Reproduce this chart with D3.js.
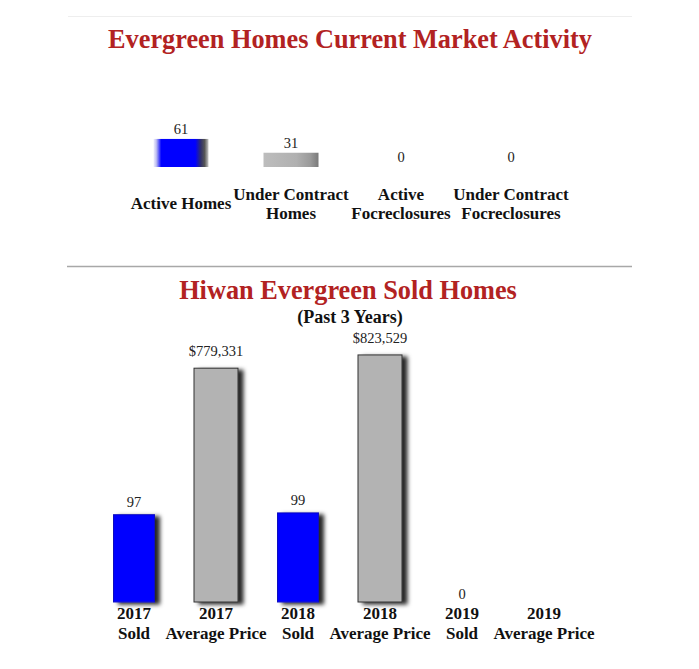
<!DOCTYPE html>
<html>
<head>
<meta charset="utf-8">
<script src="https://cdn.jsdelivr.net/npm/d3@7/dist/d3.min.js"></script>
<style>
  html, body { margin: 0; padding: 0; background: #fff; }
  svg { display: block; }
  text { font-family: "Liberation Serif", "Times New Roman", serif; }
</style>
</head>
<body>
<svg id="chart" width="699" height="669"></svg>
<script>
// ---- Data ----
const activityTitle = "Evergreen Homes Current Market Activity";
const activityCategories = [["Active Homes"], ["Under Contract", "Homes"], ["Active", "Focreclosures"], ["Under Contract", "Focreclosures"]];
const activityValues = [61, 31, 0, 0];
const activityKinds = ["active", "contract", "active", "contract"];

const soldTitle = "Hiwan Evergreen Sold Homes";
const soldSubtitle = "(Past 3 Years)";
const soldCategories = [["2017", "Sold"], ["2017", "Average Price"], ["2018", "Sold"], ["2018", "Average Price"], ["2019", "Sold"], ["2019", "Average Price"]];
const soldValues = [97, 779331, 99, 823529, 0, null];
const soldKinds = ["count", "price", "count", "price", "count", "price"];

// ---- Setup ----
const svg = d3.select("#chart");
const defs = svg.append("defs");

const gBlue = defs.append("linearGradient").attr("id", "gradBlue").attr("x1", "0").attr("x2", "1").attr("y1", "0").attr("y2", "0");
[[0, "#f0f0ff"], [0.05, "#c0c0f0"], [0.14, "#0000ff"], [0.76, "#0000ff"], [0.86, "#30306a"], [0.93, "#555"], [1, "#c8c8c8"]]
  .forEach(([o, c]) => gBlue.append("stop").attr("offset", o).attr("stop-color", c));
const gGray = defs.append("linearGradient").attr("id", "gradGray").attr("x1", "0").attr("x2", "1").attr("y1", "0").attr("y2", "0");
[[0, "#bdbdbd"], [0.6, "#b0b0b0"], [0.85, "#9a9a9a"], [1, "#7a7a7a"]]
  .forEach(([o, c]) => gGray.append("stop").attr("offset", o).attr("stop-color", c));

const shadow = defs.append("filter").attr("id", "shadow").attr("x", "-20%").attr("y", "-20%").attr("width", "160%").attr("height", "140%");
shadow.append("feDropShadow").attr("dx", 5).attr("dy", 2).attr("stdDeviation", 2.2).attr("flood-color", "#000").attr("flood-opacity", 0.85);

const titleColor = "#b22222";

// ---- Section 1 ----
svg.append("line").attr("x1", 68).attr("x2", 632).attr("y1", 16.5).attr("y2", 16.5).attr("stroke", "#eeeeee").attr("stroke-width", 1);
svg.append("text").attr("x", 350).attr("y", 48).attr("text-anchor", "middle")
  .attr("font-size", 26.3).attr("font-weight", "bold").attr("fill", titleColor).text(activityTitle);

const x1 = d3.scaleBand().domain(d3.range(activityValues.length)).range([126, 566]).paddingInner(0.5).paddingOuter(0.25);
const h1 = d3.scaleLinear().domain([0, 100]).range([0, 46]);
const base1 = 167;

const g1 = svg.append("g");
g1.selectAll("rect.bar").data(activityValues).join("rect")
  .attr("class", "bar")
  .attr("x", (d, i) => x1(i))
  .attr("width", x1.bandwidth())
  .attr("y", d => base1 - h1(d))
  .attr("height", d => h1(d))
  .attr("fill", (d, i) => activityKinds[i] === "active" ? "url(#gradBlue)" : "url(#gradGray)");

g1.selectAll("text.val").data(activityValues).join("text")
  .attr("class", "val")
  .attr("x", (d, i) => x1(i) + x1.bandwidth() / 2)
  .attr("y", d => base1 - h1(d) - 5)
  .attr("text-anchor", "middle").attr("font-size", 14.5).attr("fill", "#222")
  .text(d => d);

activityCategories.forEach((lines, i) => {
  const t = g1.append("text").attr("text-anchor", "middle").attr("font-size", 17).attr("font-weight", "bold").attr("fill", "#111");
  const cx = x1(i) + x1.bandwidth() / 2;
  const startY = lines.length === 1 ? 209 : 200;
  lines.forEach((ln, j) => t.append("tspan").attr("x", cx).attr("y", startY + j * 19).text(ln));
});

// ---- Section 2 ----
svg.append("line").attr("x1", 67).attr("x2", 632).attr("y1", 266.5).attr("y2", 266.5).attr("stroke", "#a8a8a8").attr("stroke-width", 1.5);
svg.append("text").attr("x", 348).attr("y", 299).attr("text-anchor", "middle")
  .attr("font-size", 26.3).attr("font-weight", "bold").attr("fill", titleColor).text(soldTitle);
svg.append("text").attr("x", 350).attr("y", 323).attr("text-anchor", "middle")
  .attr("font-size", 18).attr("font-weight", "bold").attr("fill", "#111").text(soldSubtitle);

const x2 = d3.scaleBand().domain(d3.range(soldValues.length)).range([93, 585]).paddingInner(0.5).paddingOuter(0.25);
const hCount = d3.scaleLinear().domain([0, 100]).range([0, 90]);
const hPrice = d3.scaleLinear().domain([0, 1000000]).range([0, 300]);
const base2 = 602;
const hOf = (d, i) => d == null ? 0 : (soldKinds[i] === "count" ? hCount(d) : hPrice(d));

const g2 = svg.append("g");
const barData = soldValues.map((v, i) => ({ v, i })).filter(d => d.v);
g2.selectAll("rect.bar").data(barData).join("rect")
  .attr("class", "bar")
  .attr("x", d => soldKinds[d.i] === "count" ? x2(d.i) : x2(d.i) - 1.5)
  .attr("width", d => soldKinds[d.i] === "count" ? x2.bandwidth() : x2.bandwidth() + 3)
  .attr("y", d => base2 - hOf(d.v, d.i))
  .attr("height", d => hOf(d.v, d.i))
  .attr("fill", d => soldKinds[d.i] === "count" ? "#0000ff" : "#b3b3b3")
  .attr("stroke", d => soldKinds[d.i] === "count" ? "#1010c0" : "#333")
  .attr("stroke-width", 1)
  .attr("filter", "url(#shadow)");

const fmtPrice = d3.format("$,");
g2.selectAll("text.val").data(soldValues.map((v, i) => ({ v, i })).filter(d => d.v != null)).join("text")
  .attr("class", "val")
  .attr("x", d => x2(d.i) + x2.bandwidth() / 2)
  .attr("y", d => base2 - hOf(d.v, d.i) - (soldKinds[d.i] === "count" ? 8 : 12) + (d.v === 0 ? 5 : 0))
  .attr("text-anchor", "middle").attr("font-size", 14.5).attr("fill", "#222")
  .text(d => soldKinds[d.i] === "price" ? fmtPrice(d.v) : d.v);

soldCategories.forEach((lines, i) => {
  const t = g2.append("text").attr("text-anchor", "middle").attr("font-size", 17).attr("font-weight", "bold").attr("fill", "#111");
  const cx = x2(i) + x2.bandwidth() / 2;
  lines.forEach((ln, j) => t.append("tspan").attr("x", cx).attr("y", 619 + j * 19.5).text(ln));
});
</script>
</body>
</html>
